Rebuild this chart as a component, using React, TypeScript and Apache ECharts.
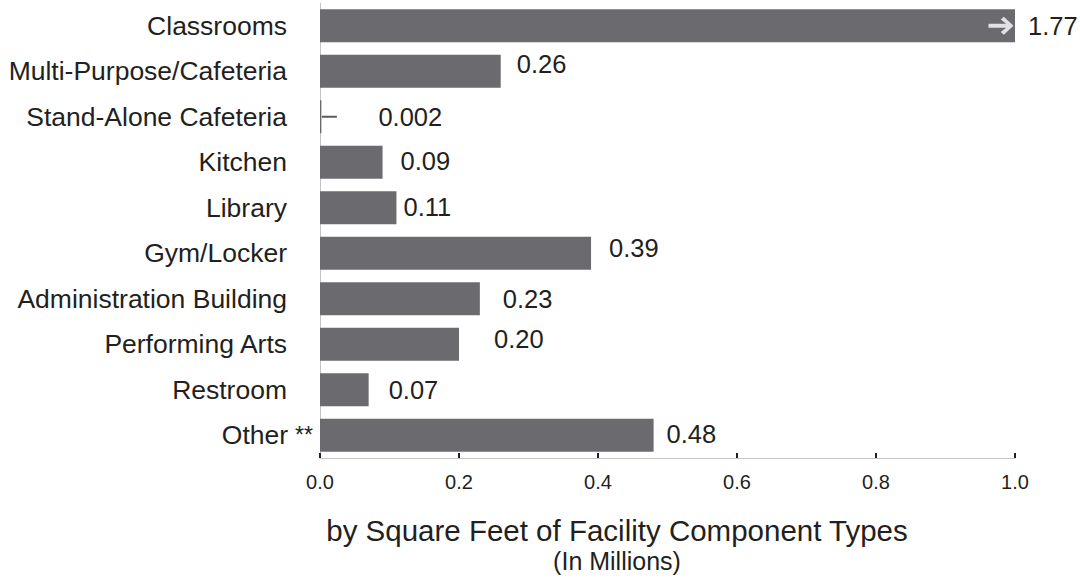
import React, { useEffect, useRef } from "react";
import * as echarts from "echarts";

const categories = [
  "Classrooms",
  "Multi-Purpose/Cafeteria",
  "Stand-Alone Cafeteria",
  "Kitchen",
  "Library",
  "Gym/Locker",
  "Administration Building",
  "Performing Arts",
  "Restroom",
  "Other",
];
const values = [1.77, 0.26, 0.002, 0.09, 0.11, 0.39, 0.23, 0.2, 0.07, 0.48];
const footnoteCategory = "Other";
const axisMin = 0;
const axisMax = 1.0;
const axisStep = 0.2;
const titleText = "by Square Feet of Facility Component Types";
const subtitleText = "(In Millions)";

// label nudges [dx, dy] (layout only)
const labelNudges: [number, number][] = [
  [13, 0],
  [16, -7],
  [57, 0],
  [18, -1],
  [7, -1],
  [18, -5],
  [23, 0],
  [35, -5],
  [20, 0],
  [13, -1],
];

const FONT = "'Liberation Sans', Arial, Helvetica, sans-serif";
const NARROW = "'Liberation Sans Narrow', 'Arial Narrow', 'Liberation Sans', sans-serif";
const BAR = "#6b6b6f";
const TEXT = "#231f20";

export default function App() {
  const ref = useRef<HTMLDivElement>(null);
  useEffect(() => {
    if (!ref.current) return;
    const chart = echarts.init(ref.current, undefined, { renderer: "svg" });
    const fmt = (v: number) => (v < 0.01 ? v.toFixed(3) : v.toFixed(2));
    const tiny = values.map((v, i) => ({ v, i })).filter((d) => d.v < 0.01);
    const over = values.map((v, i) => ({ v, i })).filter((d) => d.v > axisMax);
    chart.setOption({
      animation: false,
      grid: { left: 320, right: 65, top: 3, bottom: 120, containLabel: false },
      xAxis: {
        type: "value",
        min: axisMin,
        max: axisMax,
        interval: axisStep,
        axisLine: { show: true, lineStyle: { color: "#c4c4c4", width: 1 } },
        axisTick: { show: true, inside: true, length: 5, lineStyle: { color: TEXT, width: 2 } },
        splitLine: { show: false },
        axisLabel: {
          margin: 14,
          fontSize: 20,
          fontFamily: NARROW,
          color: TEXT,
          formatter: (v: number) => v.toFixed(1),
        },
      },
      yAxis: {
        type: "category",
        data: categories,
        inverse: true,
        axisLine: { show: true, lineStyle: { color: "#c4c4c4", width: 1 } },
        axisTick: { show: false },
        axisLabel: {
          margin: 7,
          fontSize: 26.5,
          fontFamily: FONT,
          color: TEXT,
          formatter: (v: string) => (v === footnoteCategory ? `${v}{st|**}` : `${v}{sp| }`),
          rich: {
            st: { fontSize: 23, fontFamily: FONT, color: TEXT, padding: [0, 0, 0, 7] },
            sp: { width: 26, fontSize: 26 },
          },
        },
      },
      series: [
        {
          type: "bar",
          data: values.map((v, i) => ({
            value: v,
            label: { offset: labelNudges[i] },
          })),
          barCategoryGap: "27%",
          clip: true,
          itemStyle: { color: BAR },
          label: {
            show: true,
            position: "right",
            distance: 0,
            fontSize: 25.5,
            fontFamily: FONT,
            color: TEXT,
            formatter: (p: any) => fmt(p.value),
          },
          z: 2,
        },
        {
          type: "scatter",
          data: tiny.map((d) => [d.v, categories[d.i]]),
          symbol: "rect",
          symbolSize: [15, 2],
          symbolOffset: [8, 0],
          itemStyle: { color: "#333" },
          silent: true,
          z: 3,
        },
        {
          type: "scatter",
          data: over.map((d) => [axisMax, categories[d.i]]),
          symbol:
            "path://M0,7 L17.6,7 L12.3,2.8 L15.3,0 L25,9 L15.3,18 L12.3,15.2 L17.6,11 L0,11 Z",
          symbolSize: [25, 18],
          symbolOffset: [-14, 0],
          itemStyle: { color: "#ffffff" },
          silent: true,
          z: 4,
        },
      ],
      graphic: [
        {
          type: "text",
          x: 617,
          y: 530,
          style: {
            text: titleText,
            fontSize: 29.5,
            fontFamily: FONT,
            fill: TEXT,
            align: "center",
            verticalAlign: "middle",
          },
        },
        {
          type: "text",
          x: 617,
          y: 561,
          style: {
            text: subtitleText,
            fontSize: 25,
            fontFamily: FONT,
            fill: TEXT,
            align: "center",
            verticalAlign: "middle",
          },
        },
      ],
    });
    return () => chart.dispose();
  }, []);
  return <div ref={ref} style={{ width: 1080, height: 578, position: "absolute", left: 0, top: 0 }} />;
}
